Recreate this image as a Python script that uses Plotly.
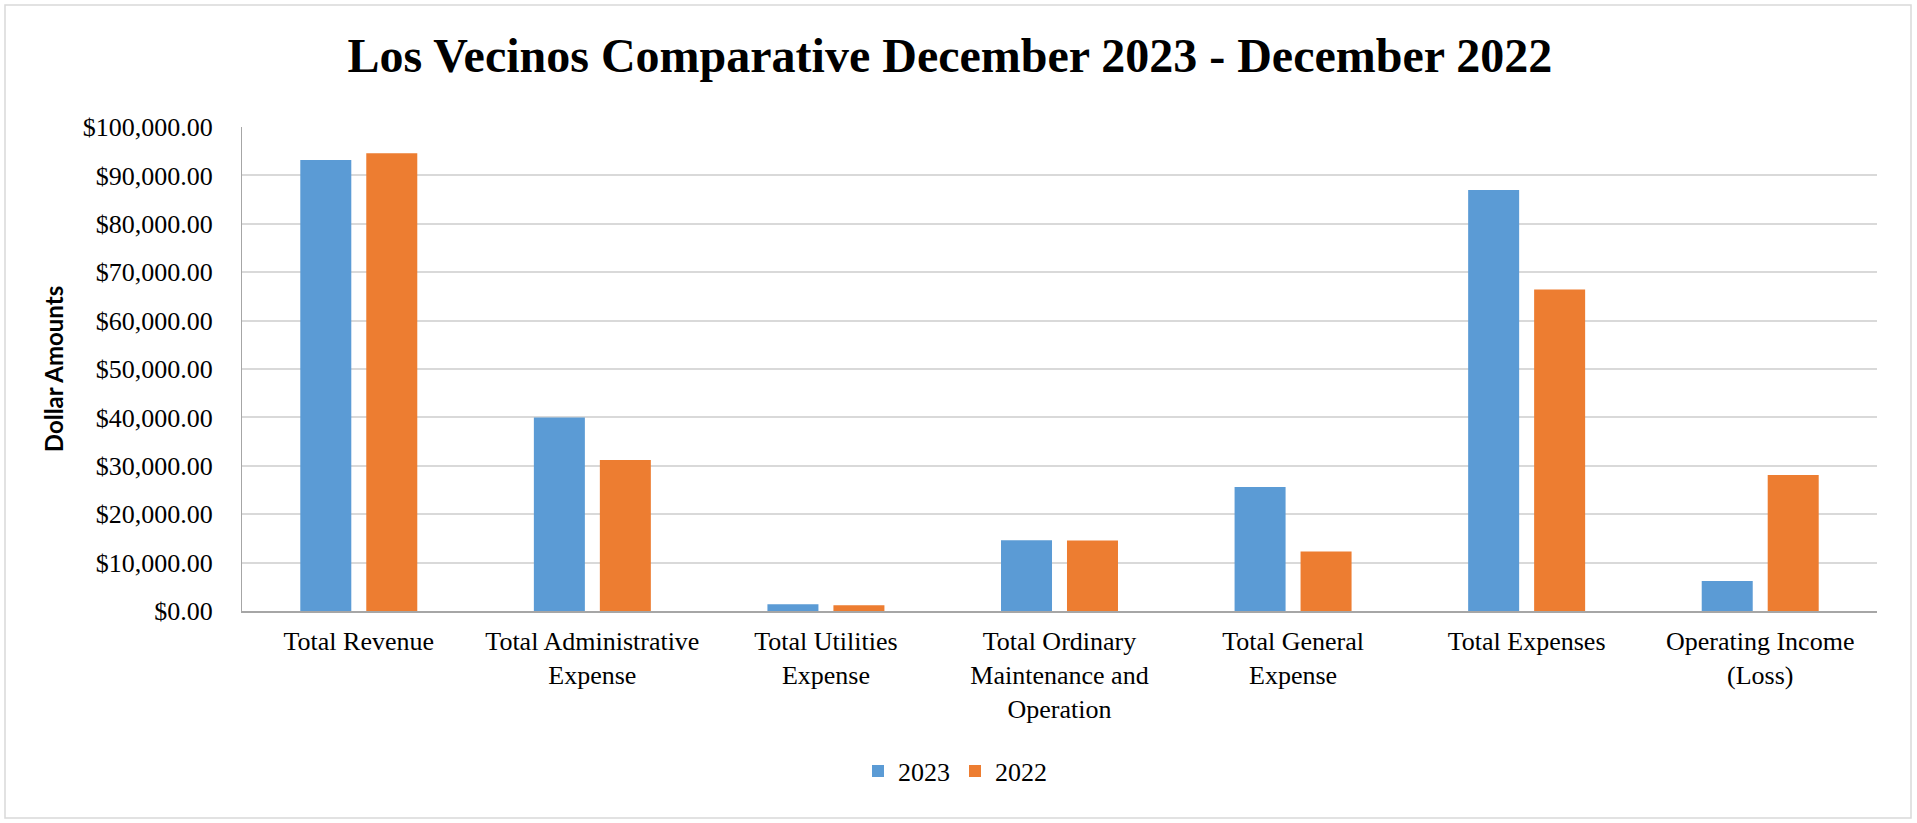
import plotly.graph_objects as go

categories = [
    "Total Revenue",
    "Total Administrative<br>Expense",
    "Total Utilities<br>Expense",
    "Total Ordinary<br>Maintenance and<br>Operation",
    "Total General<br>Expense",
    "Total Expenses",
    "Operating Income<br>(Loss)",
]
values_2023 = [93200, 40000, 1400, 14600, 25600, 87000, 6200]
values_2022 = [94600, 31200, 1200, 14550, 12300, 66400, 28100]
series_names = ["2023", "2022"]
y_ticks = list(range(0, 100001, 10000))

W, H = 1917, 823
L, R, T, B = 242, 40, 127, 212
pw, ph = W - L - R, H - T - B

serif = "Liberation Serif, Times New Roman, serif"

fig = go.Figure()
fig.add_trace(go.Bar(x=categories, y=values_2023, name=series_names[0],
                     marker=dict(color="#5B9BD5", line=dict(width=0))))
fig.add_trace(go.Bar(x=categories, y=values_2022, name=series_names[1],
                     marker=dict(color="#ED7D31", line=dict(width=0))))

fig.update_layout(
    width=W, height=H,
    margin=dict(l=L, r=R, t=T, b=B, autoexpand=False),
    paper_bgcolor="white", plot_bgcolor="white",
    barmode="group", bargap=0.435, bargroupgap=0.227,
    title=dict(text="<b>Los Vecinos Comparative December 2023 - December 2022</b>",
               x=0.4955, xref="container", xanchor="center",
               y=1 - 55 / H, yref="container", yanchor="middle",
               font=dict(family=serif, size=48, color="black")),
    font=dict(family=serif, size=26, color="black"),
    legend=dict(orientation="h", x=(955 - L) / pw, xanchor="center",
                y=(ph - (771 - T)) / ph, yanchor="middle",
                font=dict(family=serif, size=26, color="black"),
                itemwidth=30, traceorder="normal"),
    xaxis=dict(showgrid=False, showline=True, linecolor="#a6a6a6", linewidth=1.5,
               ticks="outside", ticklen=0, tickcolor="white", ticklabelstandoff=6,
               tickfont=dict(family=serif, size=26, color="black")),
    yaxis=dict(range=[0, 100000], tickvals=y_ticks, tickformat="$,.2f",
               showgrid=True, gridcolor="#d9d9d9", gridwidth=1.5,
               showline=True, linecolor="#a6a6a6", linewidth=1.2,
               zeroline=False, ticks="outside", ticklen=0, tickcolor="white",
               ticklabelstandoff=23,
               tickfont=dict(family=serif, size=26, color="black"),
               title=dict(text="<b>Dollar Amounts</b>", standoff=12,
                          font=dict(family="Lato, Liberation Sans, sans-serif", size=24, color="black"))),
    shapes=[dict(type="rect", xref="paper", yref="paper",
                 x0=(5 - L) / pw, x1=(1911 - L) / pw,
                 y0=(ph - (818 - T)) / ph, y1=(ph - (5 - T)) / ph,
                 line=dict(color="#d9d9d9", width=1.5), fillcolor="rgba(0,0,0,0)", layer="below")],
)

fig.write_html("out.html")
